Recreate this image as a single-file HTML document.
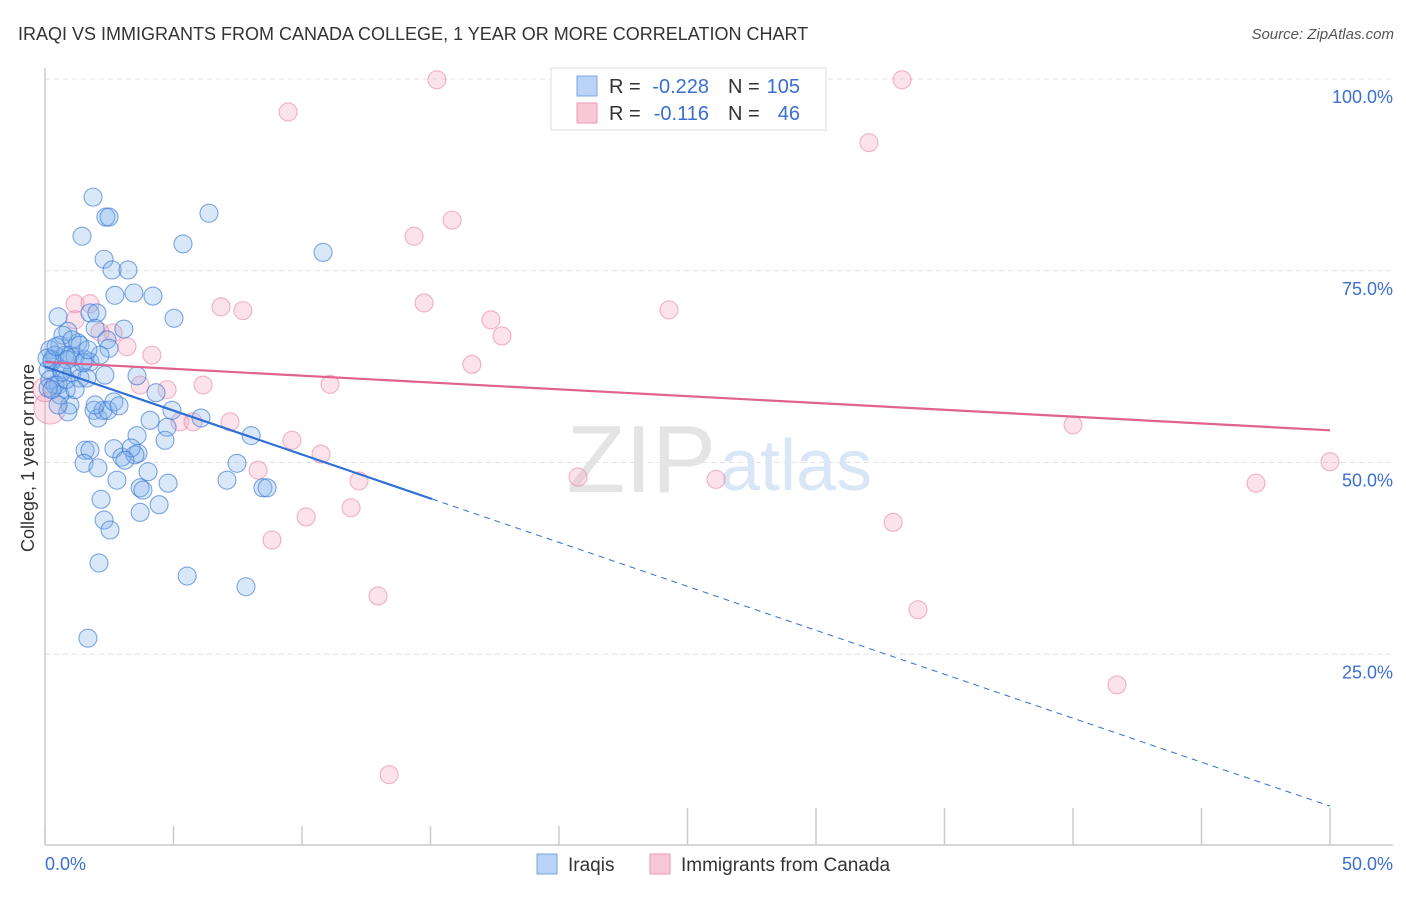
<!DOCTYPE html>
<html><head><meta charset="utf-8"><style>
body{margin:0;background:#fff;font-family:"Liberation Sans",sans-serif;}
svg text{font-family:"Liberation Sans",sans-serif;}
</style></head><body>
<svg id="chart" width="1406" height="892">
<text x="18" y="40" font-size="18" fill="#333">IRAQI VS IMMIGRANTS FROM CANADA COLLEGE, 1 YEAR OR MORE CORRELATION CHART</text>
<text x="1394" y="39" font-size="15" fill="#555" text-anchor="end" font-style="italic">Source: ZipAtlas.com</text>
<text x="34" y="458" font-size="18" fill="#333" text-anchor="middle" transform="rotate(-90 34 458)">College, 1 year or more</text>
<g id="grid"></g>
<text x="716" y="492" font-size="96" fill="#e4e4e4" text-anchor="end" font-family="Liberation Serif">ZIP</text>
<text x="720" y="490" font-size="72" fill="#d8e6f6">atlas</text>
<g id="pts"></g>
<g id="lines"></g>
<g>
<rect x="551" y="68" width="275" height="62" fill="#fff" stroke="#ddd"/>
<rect x="577" y="76" width="20" height="20" fill="#b8d3f5" stroke="#7aa6e0"/>
<text x="609" y="93" font-size="20" fill="#333">R =</text>
<text x="709" y="93" font-size="20" fill="#3a6fd0" text-anchor="end">-0.228</text>
<text x="728" y="93" font-size="20" fill="#333">N =</text>
<text x="800" y="93" font-size="20" fill="#3a6fd0" text-anchor="end">105</text>
<rect x="577" y="103" width="20" height="20" fill="#f8c8d6" stroke="#eb9ab3"/>
<text x="609" y="120" font-size="20" fill="#333">R =</text>
<text x="709" y="120" font-size="20" fill="#3a6fd0" text-anchor="end">-0.116</text>
<text x="728" y="120" font-size="20" fill="#333">N =</text>
<text x="800" y="120" font-size="20" fill="#3a6fd0" text-anchor="end">46</text>
</g>
<g>
<rect x="537" y="854" width="20" height="20" fill="#b8d3f5" stroke="#7aa6e0"/>
<text x="568" y="871" font-size="19" fill="#333">Iraqis</text>
<rect x="650" y="854" width="20" height="20" fill="#f8c8d6" stroke="#eb9ab3"/>
<text x="681" y="871" font-size="19" fill="#333">Immigrants from Canada</text>
</g>
</svg>
<script>
const blueX=[1.87,2.37,2.49,1.44,6.38,5.37,10.82,2.30,2.61,3.23,2.72,3.46,4.20,5.02,0.51,1.75,2.02,3.07,0.89,1.95,2.41,2.49,1.28,0.58,0.19,0.39,0.78,0.97,1.17,1.56,1.75,0.27,0.12,0.66,1.05,1.36,1.63,0.19,0.51,0.82,3.58,4.32,0.97,0.89,1.91,2.06,2.26,2.45,2.68,4.94,6.07,4.75,4.67,3.58,8.02,3.62,1.56,1.75,2.68,2.99,3.50,3.35,3.11,4.01,7.47,1.52,2.06,2.80,3.70,3.81,4.79,7.08,8.48,8.64,2.18,2.30,2.53,3.70,4.44,5.53,7.82,2.10,1.67,0.27,0.39,0.58,0.82,1.17,1.48,0.70,2.14,0.12,0.27,0.08,1.95,0.51,1.05,1.36,2.33,2.88,4.09,0.86,0.43,1.67,0.66];
const blueY=[84.6,82.0,82.0,79.5,82.5,78.5,77.4,76.5,75.1,75.1,71.8,72.1,71.7,68.8,69.0,69.5,69.5,67.4,67.1,67.5,66.0,64.9,65.6,65.3,64.7,64.0,64.0,64.0,63.8,63.4,63.1,63.1,62.1,62.1,61.7,61.0,61.0,60.8,60.1,59.5,61.3,59.1,57.5,56.6,56.8,55.8,56.8,56.8,57.9,56.8,55.8,54.6,52.9,53.5,53.5,51.2,51.6,51.6,51.8,50.7,51.0,51.9,50.3,48.8,49.9,49.9,49.3,47.7,46.7,46.4,47.3,47.7,46.7,46.7,45.2,42.5,41.2,43.5,44.5,35.2,33.8,36.9,27.1,63.4,60.1,58.8,60.8,59.5,63.0,66.6,64.0,59.7,59.5,63.6,57.5,57.5,66.0,65.3,61.4,57.4,55.5,63.4,65.1,64.7,61.8];
const pinkX=[15.25,33.35,9.46,32.06,15.84,14.36,1.17,1.75,6.85,7.70,14.75,17.35,17.78,24.28,2.65,3.19,4.16,16.61,11.09,3.70,4.75,6.15,7.20,5.25,5.76,9.61,10.74,8.29,12.22,11.91,10.16,8.83,20.74,26.11,40.0,50.0,47.12,33.0,33.97,41.71,12.96,13.39,0.19,2.14,1.17,0.0];
const pinkY=[99.9,99.9,95.7,91.7,81.6,79.5,70.7,70.7,70.3,69.8,70.8,68.6,66.5,69.9,66.9,65.1,64.0,62.8,60.2,60.1,59.5,60.1,55.3,55.3,55.3,52.9,51.1,49.0,47.6,44.1,42.9,39.9,48.1,47.8,54.9,50.1,47.3,42.2,30.8,21.0,32.6,9.3,57.1,67.0,68.6,59.5];
const pinkR=[9,9,9,9,9,9,9,9,9,9,9,9,9,9,9,9,9,9,9,9,9,9,9,9,9,9,9,9,9,9,9,9,9,9,9,9,9,9,9,9,9,9,16,9,9,12];
const blueTrend=[62.5,-1.146];
const pinkTrend=[63.1,-0.178];
const yTicks=[25,50,75,100];
const yTickLabels=["25.0%","50.0%","75.0%","100.0%"];
const xTicks=[0,5,10,15,20,25,30,35,40,45,50];
const NS="http://www.w3.org/2000/svg";
const X=v=>45+v*25.7, Y=v=>846-v*7.67;
function mk(t,a,p){const e=document.createElementNS(NS,t);for(const k in a)e.setAttribute(k,a[k]);p.appendChild(e);return e;}
const grid=document.getElementById('grid');
yTicks.forEach((t,i)=>{
 const l=mk('line',{x1:45,x2:1393,y1:Y(t),y2:Y(t),stroke:'#e2e2e2','stroke-dasharray':'5,4'},grid);
 
 
 const tx=mk('text',{x:1393,y:Y(t)+24,'font-size':18,fill:'#3a6fd0','text-anchor':'end'},grid);
 tx.textContent=yTickLabels[i];
 
 
});
const ax=mk('line',{x1:45,x2:1393,y1:845,y2:845,stroke:'#ccc','stroke-width':1.5},grid);


const ay=mk('line',{x1:45,x2:45,y1:68,y2:845,stroke:'#ccc','stroke-width':1.5},grid);


xTicks.forEach(t=>{
 const l=mk('line',{x1:X(t),x2:X(t),y1:t>=25?808:826,y2:845,stroke:'#ccc','stroke-width':1.5},grid);
 
 
});
const x0=mk('text',{x:45,y:870,'font-size':18,fill:'#3a6fd0'},grid);x0.textContent='0.0%';


const x1=mk('text',{x:1393,y:870,'font-size':18,fill:'#3a6fd0','text-anchor':'end'},grid);x1.textContent='50.0%';


const pts=document.getElementById('pts');
pinkX.forEach((v,i)=>{
 const c=mk('circle',{cx:X(v),cy:Y(pinkY[i]),r:pinkR[i],fill:'rgba(244,160,188,0.3)',stroke:'rgba(232,130,165,0.6)','stroke-width':1.1},pts);
 
 
});
blueX.forEach((v,i)=>{
 const c=mk('circle',{cx:X(v),cy:Y(blueY[i]),r:9,fill:'rgba(130,178,235,0.3)',stroke:'rgba(60,120,210,0.65)','stroke-width':1.1},pts);
 
 
});
const lines=document.getElementById('lines');
const bx=Math.max(...blueX)+4.24;
const b1=mk('line',{x1:X(0),y1:Y(blueTrend[0]),x2:X(bx),y2:Y(blueTrend[0]+blueTrend[1]*bx),stroke:'#2f6fd6','stroke-width':2.2},lines);


const b2=mk('line',{x1:X(bx),y1:Y(blueTrend[0]+blueTrend[1]*bx),x2:X(50),y2:Y(blueTrend[0]+blueTrend[1]*50),stroke:'#2f6fd6','stroke-width':1,'stroke-dasharray':'6,5'},lines);


const p1=mk('line',{x1:X(0),y1:Y(pinkTrend[0]),x2:X(50),y2:Y(pinkTrend[0]+pinkTrend[1]*50),stroke:'#e0628e','stroke-width':2.2},lines);


</script>
</body></html>
